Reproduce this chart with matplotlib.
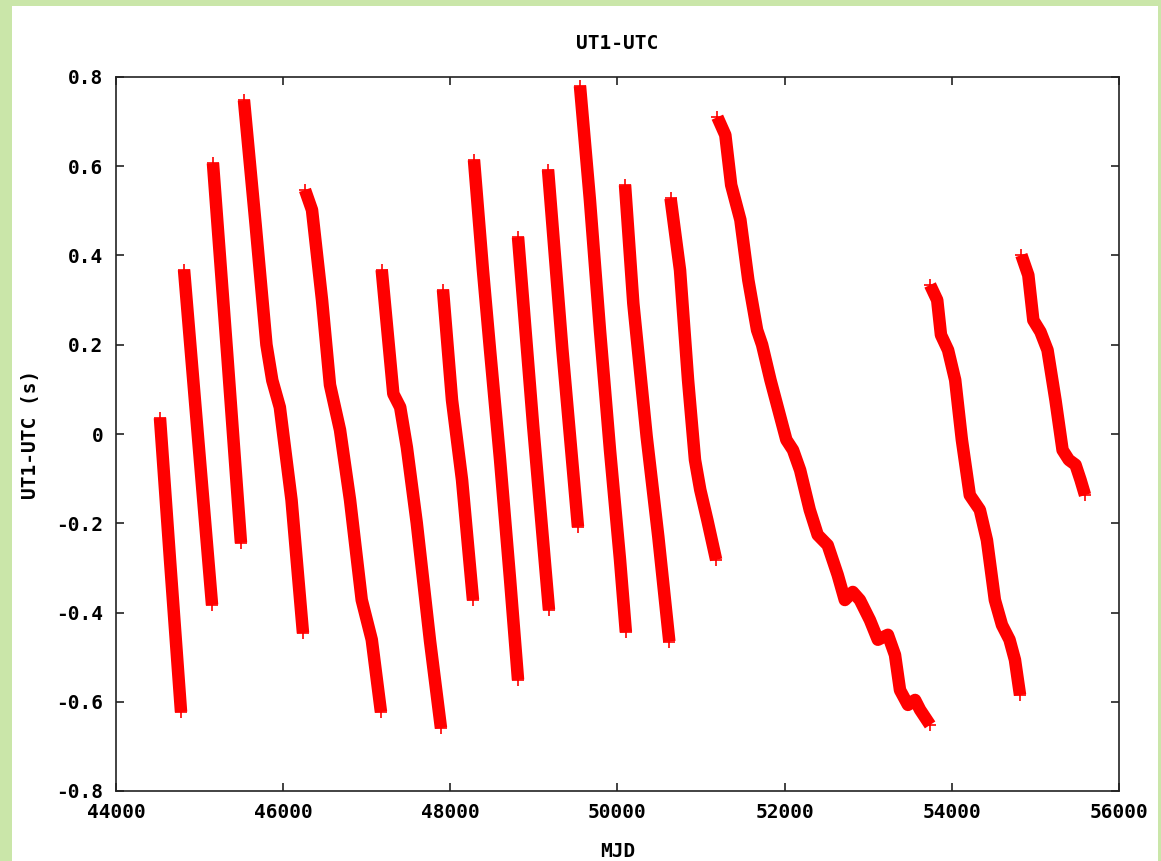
import matplotlib
matplotlib.use('Agg')
import matplotlib.pyplot as plt
from matplotlib.patches import Rectangle
from matplotlib.ticker import FuncFormatter, MultipleLocator

# UT1-UTC segments between leap seconds (MJD, seconds)
seg_mjd = [
    [44526, 44646, 44778],
    [44814, 44980, 45149],
    [45160, 45330, 45495],
    [45531, 45670, 45800, 45870, 45960, 46100, 46237],
    [46261, 46345, 46465, 46560, 46680, 46800, 46940, 47060, 47170],
    [47179, 47318, 47400, 47480, 47598, 47757, 47888],
    [47912, 48020, 48140, 48271],
    [48283, 48390, 48475, 48595, 48715, 48810],
    [48810, 48990, 49180],
    [49169, 49340, 49527],
    [49551, 49670, 49790, 49910, 50030, 50100],
    [50090, 50189, 50349, 50488, 50620],
    [50635, 50748, 50844, 50927, 50990, 51075, 51180],
    [51195, 51290, 51360, 51470, 51565, 51670, 51730, 51830, 51925, 52020, 52100,
     52185, 52300, 52395, 52515, 52635, 52720, 52815, 52900, 53020, 53115, 53235,
     53320, 53380, 53475, 53560, 53620, 53740],
    [53740, 53825, 53870, 53955, 54040, 54120, 54215, 54335, 54420, 54515, 54600,
     54690, 54755, 54816],
    [54832, 54915, 54975, 55060, 55145, 55240, 55325, 55400, 55480, 55540, 55594],
]
seg_val = [
    [0.036, -0.282, -0.623],
    [0.368, -0.005, -0.383],
    [0.607, 0.180, -0.244],
    [0.748, 0.470, 0.200, 0.120, 0.060, -0.148, -0.446],
    [0.547, 0.502, 0.300, 0.110, 0.009, -0.148, -0.372, -0.461, -0.623],
    [0.368, 0.090, 0.060, -0.030, -0.199, -0.464, -0.659],
    [0.323, 0.076, -0.103, -0.372],
    [0.614, 0.367, 0.188, -0.058, -0.327, -0.551],
    [0.441, 0.020, -0.394],
    [0.592, 0.190, -0.208],
    [0.780, 0.524, 0.233, -0.036, -0.282, -0.444],
    [0.558, 0.293, -0.006, -0.230, -0.465],
    [0.528, 0.367, 0.121, -0.058, -0.125, -0.193, -0.282],
    [0.710, 0.670, 0.558, 0.480, 0.345, 0.233, 0.200, 0.121, 0.054, -0.013, -0.036,
     -0.081, -0.170, -0.226, -0.249, -0.316, -0.372, -0.354, -0.372, -0.417, -0.461,
     -0.450, -0.495, -0.574, -0.607, -0.596, -0.618, -0.652],
    [0.334, 0.300, 0.222, 0.188, 0.121, -0.013, -0.137, -0.170, -0.238, -0.372,
     -0.428, -0.461, -0.506, -0.585],
    [0.401, 0.356, 0.255, 0.229, 0.188, 0.076, -0.036, -0.058, -0.069, -0.103, -0.137],
]

plt.rcParams['axes.unicode_minus'] = False
font = {'family': 'DejaVu Sans Mono', 'weight': 'bold', 'size': 14}

fig = plt.figure(figsize=(11.61, 8.61), dpi=100)
fig.patch.set_facecolor('#cae6a9')
fig.patches.append(Rectangle((12 / 1161, 0), 1146 / 1161, 855 / 861,
                             transform=fig.transFigure, facecolor='white',
                             edgecolor='none', zorder=-10))

ax = fig.add_axes([116 / 1161, 1 - 791 / 861, 1003 / 1161, 714 / 861])
ax.set_zorder(1)
for xs, ys in zip(seg_mjd, seg_val):
    ax.plot(xs, ys, color='#ff0000', linewidth=9, solid_capstyle='butt',
            solid_joinstyle='round', marker='+', markevery=[0, -1],
            markersize=8, markeredgewidth=1.2)

ax.set_xlim(44000, 56000)
ax.set_ylim(-0.8, 0.8)
ax.xaxis.set_major_locator(MultipleLocator(2000))
ax.yaxis.set_major_locator(MultipleLocator(0.2))
ax.yaxis.set_major_formatter(FuncFormatter(lambda v, p: '0' if abs(v) < 1e-9 else f'{v:.1f}'))
ax.tick_params(direction='in', length=6, width=1.2, top=True, right=True,
               colors='#222222', labelcolor='black')
ax.tick_params(axis='x', pad=9)
ax.tick_params(axis='y', pad=9)
for lab in ax.get_xticklabels() + ax.get_yticklabels():
    lab.set_fontproperties(font)
for sp in ax.spines.values():
    sp.set_linewidth(1.2)
    sp.set_color('#222222')

ax.set_title('UT1-UTC', fontdict=font, pad=20)
ax.set_xlabel('MJD', fontdict=font, labelpad=14)
ax.set_ylabel('UT1-UTC (s)', fontdict=font, labelpad=12)

fig.savefig('out.png', dpi=100, facecolor=fig.get_facecolor())
